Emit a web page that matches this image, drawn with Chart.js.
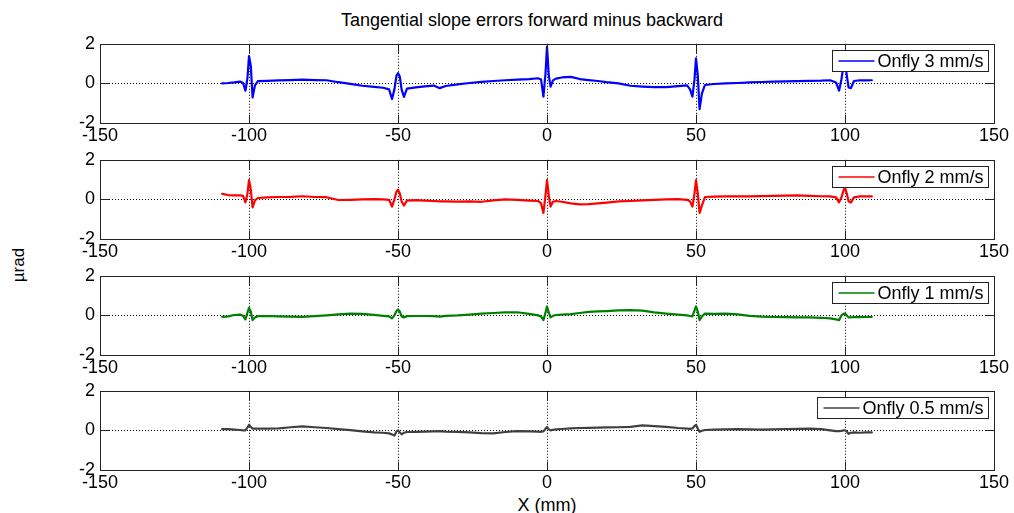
<!DOCTYPE html>
<html>
<head>
<meta charset="utf-8">
<script src="https://cdn.jsdelivr.net/npm/chart.js@4.4.1/dist/chart.umd.min.js"></script>
<style>
  body { margin: 0; background: #fff; width: 1014px; height: 513px; position: relative; overflow: hidden;
         font-family: 'Liberation Sans', Arial, sans-serif; }
  .panel { position: absolute; left: 0; width: 1014px; height: 125px; }
  .txt { position: absolute; font-size: 18px; line-height: 18px; color: #000; white-space: nowrap; }
</style>
</head>
<body>
<div class="txt" style="left:0;width:1064px;text-align:center;top:11px;">Tangential slope errors forward minus backward</div>
<div class="txt" style="left:0;width:1094px;text-align:center;top:496px;">X (mm)</div>
<div class="txt" style="left:19px;top:265px;font-size:17px;transform:translate(-50%,-50%) rotate(-90deg);">&micro;rad</div>

<div class="panel" style="top:28px;"><canvas id="c0" width="1014" height="125"></canvas></div>
<div class="panel" style="top:144px;"><canvas id="c1" width="1014" height="125"></canvas></div>
<div class="panel" style="top:260px;"><canvas id="c2" width="1014" height="125"></canvas></div>
<div class="panel" style="top:375px;"><canvas id="c3" width="1014" height="125"></canvas></div>

<script>
// position along the mirror (mm)
const xMm = [
  -109, -107, -105, -103, -102, -101.2, -100.5, -100, -99.4, -98.8, -98, -97,
  -94, -90, -86, -82, -78, -74, -70, -66, -62, -58, -55,
  -53, -52, -51.2, -50.5, -50, -49.4, -48.8, -48, -47,
  -44, -41, -38, -36, -34, -30, -26, -22, -18, -14, -10, -6,
  -3, -2, -1.2, -0.5, 0, 0.6, 1.2, 2, 3,
  5, 8, 11, 14, 17, 20, 24, 28, 32, 36, 40, 44,
  47, 48, 48.8, 49.5, 50, 50.6, 51.2, 52, 53,
  56, 60, 64, 68, 72, 76, 80, 84, 88, 92, 95,
  97, 98, 98.8, 99.5, 100, 100.6, 101.2, 102, 103,
  105, 107, 109
];

// forward minus backward slope error (µrad)
const slope3 = [
  0.00, 0.02, 0.05, 0.09, 0.02, -0.37, 0.30, 1.38, 0.90, -0.71, -0.10, 0.11,
  0.13, 0.15, 0.17, 0.19, 0.17, 0.16, 0.06, -0.02, -0.12, -0.18, -0.22,
  -0.30, -0.79, -0.30, 0.40, 0.52, 0.35, -0.30, -0.68, -0.26,
  -0.20, -0.15, -0.11, -0.24, -0.13, -0.05, 0.02, 0.08, 0.12, 0.16, 0.19, 0.22,
  0.26, 0.20, -0.67, 0.50, 1.86, 0.40, -0.16, 0.15, 0.24,
  0.30, 0.33, 0.22, 0.17, 0.12, 0.06, 0.00, -0.12, -0.16, -0.19, -0.19, -0.14,
  -0.10, -0.30, -0.67, 0.20, 1.27, 0.40, -1.30, -0.50, -0.08,
  -0.03, 0.00, 0.02, 0.05, 0.07, 0.09, 0.10, 0.11, 0.13, 0.14, 0.16,
  0.05, -0.37, 0.20, 0.90, 1.10, 0.40, -0.20, -0.24, 0.12,
  0.16, 0.15, 0.16
];
const slope2 = [
  0.28, 0.22, 0.20, 0.20, 0.18, -0.15, 0.30, 0.98, 0.50, -0.40, -0.05, 0.07,
  0.10, 0.12, 0.13, 0.16, 0.12, 0.11, -0.03, -0.02, 0.00, 0.01, 0.00,
  -0.02, -0.36, 0.00, 0.40, 0.49, 0.30, -0.10, -0.31, -0.06,
  -0.04, -0.06, -0.08, -0.10, -0.10, -0.11, -0.10, -0.12, -0.05, 0.00, -0.02, -0.06,
  -0.08, -0.20, -0.68, 0.20, 0.98, 0.20, -0.36, -0.12, -0.08,
  -0.12, -0.20, -0.25, -0.24, -0.20, -0.16, -0.10, -0.08, -0.05, -0.02, 0.00, 0.01,
  -0.02, -0.10, -0.36, 0.30, 0.98, 0.30, -0.68, -0.30, 0.12,
  0.14, 0.15, 0.15, 0.15, 0.17, 0.18, 0.19, 0.20, 0.18, 0.16, 0.15,
  0.10, -0.15, 0.10, 0.45, 0.60, 0.30, -0.10, -0.15, 0.10,
  0.15, 0.15, 0.15
];
const slope1 = [
  -0.07, -0.05, 0.02, 0.04, -0.02, -0.20, 0.15, 0.38, 0.20, -0.24, -0.10, -0.04,
  -0.03, -0.05, -0.06, -0.07, -0.04, 0.00, 0.05, 0.09, 0.08, 0.03, -0.02,
  -0.05, -0.15, 0.00, 0.22, 0.30, 0.20, -0.05, -0.10, -0.04,
  -0.03, -0.03, -0.04, -0.06, -0.02, 0.00, 0.04, 0.09, 0.12, 0.15, 0.16, 0.08,
  0.00, -0.05, -0.24, 0.15, 0.45, 0.15, -0.10, -0.02, 0.02,
  0.04, 0.06, 0.12, 0.18, 0.20, 0.22, 0.25, 0.27, 0.24, 0.15, 0.09, 0.04,
  0.00, -0.03, -0.05, 0.25, 0.45, 0.20, -0.24, -0.05, 0.09,
  0.08, 0.09, 0.05, -0.02, -0.06, -0.08, -0.09, -0.10, -0.10, -0.12, -0.15,
  -0.20, -0.24, 0.00, 0.08, 0.09, 0.00, -0.10, -0.10, -0.08,
  -0.09, -0.08, -0.07
];
const slope05 = [
  0.06, 0.06, 0.04, 0.02, 0.00, 0.00, 0.15, 0.28, 0.18, 0.09, 0.09, 0.09,
  0.09, 0.10, 0.16, 0.20, 0.16, 0.12, 0.06, 0.01, -0.05, -0.10, -0.12,
  -0.15, -0.20, -0.26, -0.05, 0.00, -0.10, -0.20, -0.12, -0.08,
  -0.07, -0.06, -0.05, -0.04, -0.06, -0.07, -0.10, -0.14, -0.15, -0.08, -0.04, -0.05,
  -0.06, -0.07, -0.05, 0.08, 0.17, 0.05, 0.00, 0.03, 0.05,
  0.07, 0.10, 0.12, 0.13, 0.14, 0.15, 0.16, 0.18, 0.25, 0.22, 0.18, 0.12,
  0.09, 0.08, 0.10, 0.22, 0.28, 0.10, -0.07, -0.02, 0.02,
  0.04, 0.05, 0.06, 0.05, 0.04, 0.05, 0.07, 0.08, 0.09, 0.06, 0.00,
  -0.04, -0.04, -0.02, 0.00, 0.00, -0.05, -0.17, -0.12, -0.10,
  -0.12, -0.10, -0.10
];

const seriesNames = ['Onfly 3 mm/s', 'Onfly 2 mm/s', 'Onfly 1 mm/s', 'Onfly 0.5 mm/s'];
const seriesValues = [slope3, slope2, slope1, slope05];
const seriesColors = ['#0000ff', '#ff0000', '#008000', '#404040'];

const FONT = "'Liberation Sans', Arial, sans-serif";
Chart.defaults.font.family = FONT;
Chart.defaults.color = '#000';

// frame, inward tick marks and boxed legend, matlab style
const matlabBox = {
  id: 'matlabBox',
  afterDraw(chart) {
    const { ctx, chartArea: a, scales: { x, y } } = chart;
    const L = Math.round(a.left) + 0.5, T = Math.round(a.top) + 0.5;
    const R = Math.round(a.right) + 0.5, B = Math.round(a.bottom) + 0.5;
    ctx.save();
    ctx.strokeStyle = '#222';
    ctx.lineWidth = 1;
    ctx.strokeRect(L, T, R - L, B - T);
    ctx.beginPath();
    x.ticks.forEach(t => {
      const px = Math.round(x.getPixelForValue(t.value)) + 0.5;
      ctx.moveTo(px, B); ctx.lineTo(px, B - 9);
      ctx.moveTo(px, T); ctx.lineTo(px, T + 9);
    });
    y.ticks.forEach(t => {
      const py = Math.round(y.getPixelForValue(t.value)) + 0.5;
      ctx.moveTo(L, py); ctx.lineTo(L + 9, py);
      ctx.moveTo(R, py); ctx.lineTo(R - 9, py);
    });
    ctx.stroke();

    const ds = chart.data.datasets[0];
    ctx.font = '18px ' + FONT;
    const tw = ctx.measureText(ds.label).width;
    const w = Math.round(6 + 36 + 4 + tw + 4), h = 21;
    const bx = Math.round(a.right - 6 - w) + 0.5, by = Math.round(a.top + 6) + 0.5;
    ctx.fillStyle = '#fff';
    ctx.fillRect(bx, by, w, h);
    ctx.strokeRect(bx, by, w, h);
    ctx.strokeStyle = ds.borderColor;
    ctx.lineWidth = 1.5;
    ctx.beginPath();
    ctx.moveTo(bx + 6, by + h / 2); ctx.lineTo(bx + 42, by + h / 2);
    ctx.stroke();
    ctx.fillStyle = '#000';
    ctx.textBaseline = 'middle';
    ctx.fillText(ds.label, bx + 45, by + h / 2 + 1);
    ctx.restore();
  }
};

seriesValues.forEach((vals, i) => {
  new Chart(document.getElementById('c' + i), {
    type: 'line',
    data: {
      datasets: [{
        label: seriesNames[i],
        data: xMm.map((xv, k) => ({ x: xv, y: vals[k] })),
        borderColor: seriesColors[i],
        borderWidth: 2.2,
        borderJoinStyle: 'round',
        borderCapStyle: 'round',
        pointRadius: 0,
        tension: 0,
        fill: false
      }]
    },
    options: {
      responsive: false,
      animation: false,
      events: [],
      layout: { padding: { top: 12, right: 20, left: 0, bottom: 0 } },
      plugins: { legend: { display: false }, tooltip: { enabled: false } },
      scales: {
        x: {
          type: 'linear', min: -150, max: 150,
          ticks: { stepSize: 50, maxRotation: 0, autoSkip: false, padding: 2, font: { size: 18 } },
          grid: { drawTicks: false, color: c => Math.abs(c.tick.value) === 150 ? 'rgba(0,0,0,0)' : '#000' },
          border: { display: false, dash: [1, 2] },
          afterFit: s => { s.height = 30; }
        },
        y: {
          min: -2, max: 2,
          ticks: { stepSize: 2, padding: 5, font: { size: 18 } },
          grid: { drawTicks: false, color: c => c.tick.value === 0 ? '#000' : 'rgba(0,0,0,0)' },
          border: { display: false, dash: [1, 2] },
          afterFit: s => { s.width = 100; }
        }
      }
    },
    plugins: [matlabBox]
  });
});
</script>
</body>
</html>
